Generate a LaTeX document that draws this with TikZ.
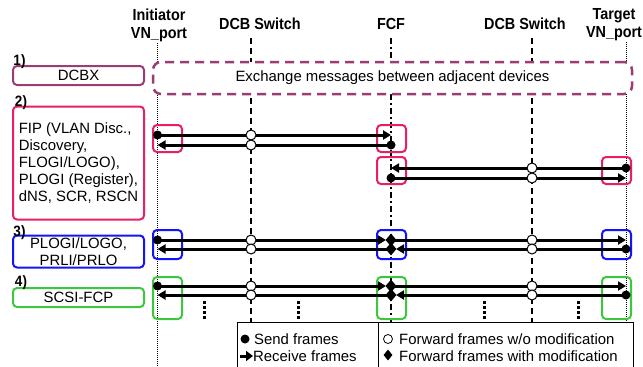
\documentclass[tikz,border=0pt]{standalone}
\usepackage{fontspec}
\setmainfont{Liberation Sans}
\newfontfamily\hdrfont[FakeStretch=0.9]{Liberation Sans Bold}
\usetikzlibrary{arrows.meta,shapes.geometric}
\definecolor{cpurple}{RGB}{155,60,115}
\definecolor{cpink}{RGB}{232,30,105}
\definecolor{cblue}{RGB}{20,20,250}
\definecolor{cgreen}{RGB}{60,200,60}
\tikzset{
  lbl/.style={font=\fontsize{14.9}{17}\selectfont, inner sep=0pt},
  hdr/.style={font=\hdrfont\fontsize{16}{18}\selectfont, inner sep=0pt, align=center},
  num/.style={font=\hdrfont\fontsize{15}{15}\selectfont, inner sep=0pt},
  msg/.style={line width=3pt, -{Triangle[length=8pt,width=9pt]}},
  snd/.style={circle, fill=black, minimum size=9pt, inner sep=0pt},
  fwd/.style={circle, draw=black, fill=white, line width=1pt, minimum size=10pt, inner sep=0pt},
  modf/.style={diamond, fill=black, minimum width=11pt, minimum height=13pt, inner sep=0pt},
  mbox/.style={rounded corners=4pt, line width=2pt, inner sep=0pt},
  hbox/.style={rounded corners=4pt, line width=2pt},
  lifedot/.style={line width=1pt, dash pattern=on 1pt off 1pt},
  lifedash/.style={line width=2pt, dash pattern=on 6pt off 4pt},
  lifedd/.style={line width=2pt, dash pattern=on 6pt off 3pt on 2pt off 3pt},
  vdots/.style={line width=3pt, dash pattern=on 3pt off 2pt},
}
\begin{document}
\begin{tikzpicture}[x=1pt,y=-1pt]
\useasboundingbox (0,0) rectangle (643,367);
\fill[white] (0,0) rectangle (643,367);

% headers
\node[hdr] (hI) at (159,25) {Initiator\\VN\_port};
\node[hdr] (hD1) at (260,23.5) {DCB Switch};
\node[hdr] (hF) at (391,23.5) {FCF};
\node[hdr] (hD2) at (525,23.5) {DCB Switch};
\node[hdr] (hT) at (614,25) {Target\\VN\_port};

% lifelines
\coordinate (lI1) at (157.5,43); \coordinate (lI2) at (157.5,367);
\coordinate (lD1a) at (251,38); \coordinate (lD1b) at (251,322);
\coordinate (lFa) at (391,38); \coordinate (lFb) at (391,322);
\coordinate (lD2a) at (532,38); \coordinate (lD2b) at (532,322);
\coordinate (lTa) at (626,42); \coordinate (lTb) at (626,322);
\draw[lifedot] (lI1) -- (lI2);
\draw[lifedash] (lD1a) -- (lD1b);
\draw[lifedd] (lFa) -- (lFb);
\draw[lifedash] (lD2a) -- (lD2b);
\draw[lifedot] (lTa) -- (lTb);

% row labels
\node[mbox, draw=cpurple, minimum width=131pt, minimum height=19pt, lbl] (b1) at (78.5,75.5) {DCBX};
\node[mbox, draw=cpink, minimum width=131pt, minimum height=113pt, lbl, align=left] (b2) at (78.5,163) {FIP (VLAN Disc.,\\Discovery,\\FLOGI/LOGO),\\PLOGI (Register),\\dNS, SCR, RSCN};
\node[mbox, draw=cblue, minimum width=131pt, minimum height=32pt, lbl, align=center] (b3) at (78.5,251.5) {PLOGI/LOGO,\\PRLI/PRLO};
\node[mbox, draw=cgreen, minimum width=131pt, minimum height=19pt, lbl] (b4) at (78.5,297.5) {SCSI-FCP};
\node[num] (n1) at (19.5,62) {1)};
\node[num] (n2) at (21,102.5) {2)};
\node[num] (n3) at (19.5,233) {3)};
\node[num] (n4) at (21,282.5) {4)};

% exchange box
\node[draw=cpurple, line width=2.5pt, dash pattern=on 9pt off 6pt, rounded corners=8pt, fill=white,
      minimum width=479pt, minimum height=32pt, lbl] (ex) at (392.5,78) {Exchange messages between adjacent devices};

% highlight boxes
\draw[hbox, draw=cpink] (153,125) rectangle (182,152);
\draw[hbox, draw=cpink] (377,125) rectangle (406,152);
\draw[hbox, draw=cpink] (377,157) rectangle (406,184);
\draw[hbox, draw=cpink] (602,157) rectangle (631,184);
\draw[hbox, draw=cblue] (153,230) rectangle (182,259);
\draw[hbox, draw=cblue] (377,230) rectangle (406,259);
\draw[hbox, draw=cblue] (602,230) rectangle (631,259);
\draw[hbox, draw=cgreen] (153,277) rectangle (182,319);
\draw[hbox, draw=cgreen] (377,277) rectangle (406,319);
\draw[hbox, draw=cgreen] (602,277) rectangle (631,319);

% row 2 messages
\coordinate (a1s) at (157.5,135); \coordinate (a1e) at (391,135);
\coordinate (a2s) at (391,145); \coordinate (a2e) at (157.5,145);
\coordinate (a3s) at (626,168); \coordinate (a3e) at (391,168);
\coordinate (a4s) at (391,178); \coordinate (a4e) at (626,178);
\draw[msg] (a1s) -- (a1e);
\draw[msg] (a2s) -- (a2e);
\draw[msg] (a3s) -- (a3e);
\draw[msg] (a4s) -- (a4e);
\node[snd] (sa1) at (a1s) {};
\node[snd] (sa2) at (a2s) {};
\node[snd] (sa3) at (a3s) {};
\node[snd] (sa4) at (a4s) {};
\node[fwd] (fa1) at (251,135) {};
\node[fwd] (fa2) at (251,145) {};
\node[fwd] (fa3) at (532,168) {};
\node[fwd] (fa4) at (532,178) {};

% row 3 and row 4 messages
\foreach \r/\ya/\yb in {c/240/249, d/286/295}{
  \coordinate (\r1s) at (157.5,\ya);
  \coordinate (\r1m) at (386,\ya);
  \coordinate (\r1f) at (391,\ya);
  \coordinate (\r1e) at (626,\ya);
  \coordinate (\r2s) at (626,\yb);
  \coordinate (\r2m) at (396,\yb);
  \coordinate (\r2f) at (391,\yb);
  \coordinate (\r2e) at (157.5,\yb);
  \draw[msg] (\r1s) -- (\r1m);
  \draw[msg] (\r1f) -- (\r1e);
  \draw[msg] (\r2s) -- (\r2m);
  \draw[msg] (\r2f) -- (\r2e);
  \node[snd] (s\r1) at (\r1s) {};
  \node[snd] (s\r2) at (\r2s) {};
  \node[modf] (m\r1) at (\r1f) {};
  \node[modf] (m\r2) at (\r2f) {};
  \node[fwd] (f\r1a) at (251,\ya) {};
  \node[fwd] (f\r2a) at (251,\yb) {};
  \node[fwd] (f\r1b) at (532,\ya) {};
  \node[fwd] (f\r2b) at (532,\yb) {};
}

% continuation dots
\foreach \x in {204,298,484,578}{
  \draw[vdots] (\x,301) -- (\x,319);
}

% legend
\draw[line width=1pt] (237,368) -- (237,322) -- (633,322) -- (633,368);
\draw[line width=1pt] (378,322) -- (378,368);
\node[snd] (lsnd) at (245,339) {};
\node[lbl, anchor=west] (tsnd) at (254,339) {Send frames};
\coordinate (lr1) at (240,356); \coordinate (lr2) at (253,356);
\draw[line width=3pt, -{Triangle[length=7pt,width=10pt]}] (lr1) -- (lr2);
\node[lbl, anchor=west] (trcv) at (253,356) {Receive frames};
\node[fwd, minimum size=9pt, line width=0.8pt] (lfwd) at (388,339) {};
\node[lbl, anchor=west] (tfwd) at (399,339) {Forward frames w/o modification};
\node[modf, minimum width=9pt, minimum height=11pt] (lmod) at (388,355) {};
\node[lbl, anchor=west] (tmod) at (399,356) {Forward frames with modification};
\end{tikzpicture}
\end{document}
